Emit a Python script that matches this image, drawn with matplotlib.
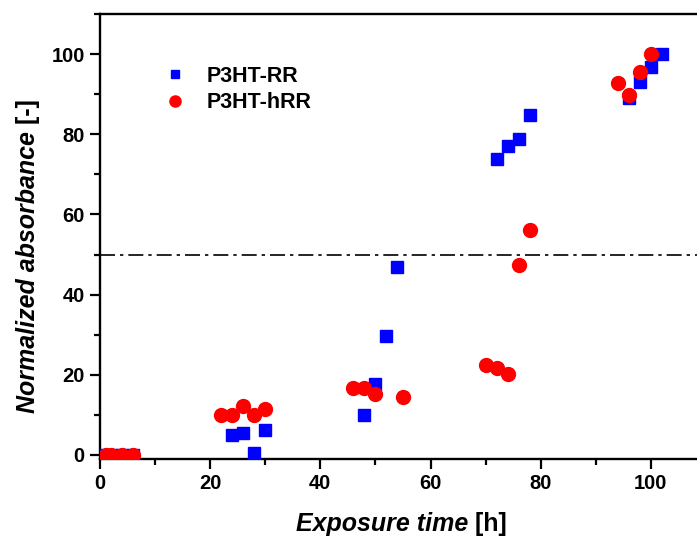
import matplotlib
matplotlib.use("Agg")
import matplotlib.pyplot as plt
from matplotlib.ticker import MultipleLocator

plt.rcParams['font.family'] = ['Liberation Sans', 'DejaVu Sans']

# P3HT-RR (carrés bleus)
rr_time = [1, 2, 4, 6, 24, 26, 28, 30, 48, 50, 52, 54, 72, 74, 76, 78, 96, 98, 100, 102]
rr_abs = [0, 0, 0, 0, 5.0, 5.6, 0.4, 6.3, 10.0, 17.6, 29.8, 47.0, 73.8, 77.0, 78.9, 84.7, 89.1, 93.0, 96.8, 100]

# P3HT-hRR (cercles rouges)
hrr_time = [1, 2, 4, 6, 22, 24, 26, 28, 30, 46, 48, 50, 55, 70, 72, 74, 76, 78, 94, 96, 98, 100]
hrr_abs = [0, 0, 0, 0, 10.1, 10.1, 12.2, 10.1, 11.5, 16.7, 16.7, 15.2, 14.5, 22.5, 21.7, 20.3, 47.3, 56.1, 92.7, 89.8, 95.6, 100]

seuil = 50

fig = plt.figure(figsize=(6.97, 5.38), dpi=100)
ax = fig.add_axes([100 / 697, 1 - 459 / 538, 606 / 697, 445 / 538])

ax.plot(rr_time, rr_abs, 's', color='#0000ff', markersize=8, label='P3HT-RR', zorder=3)
ax.plot(hrr_time, hrr_abs, 'o', color='#ff0000', markersize=10, label='P3HT-hRR', zorder=4)
ax.axhline(seuil, color='black', linewidth=1.2, linestyle=(0, (9, 3, 2, 3)), zorder=2)

ax.set_xlim(0, 110)
ax.set_ylim(-1, 110)
ax.xaxis.set_major_locator(MultipleLocator(20))
ax.xaxis.set_minor_locator(MultipleLocator(10))
ax.yaxis.set_major_locator(MultipleLocator(20))
ax.yaxis.set_minor_locator(MultipleLocator(10))
ax.tick_params(which='major', direction='out', length=7, width=1.6, labelsize=14.5, pad=4)
ax.tick_params(which='minor', direction='out', length=4.5, width=1.6)
for lab in ax.get_xticklabels() + ax.get_yticklabels():
    lab.set_fontweight('bold')

for s in ['left', 'bottom', 'top', 'right']:
    ax.spines[s].set_linewidth(1.7)

# titres des axes : partie italique + unité droite
tx = fig.text(468 / 697, 1 - 536 / 538, 'Exposure time', fontsize=18, fontweight='bold',
              fontstyle='italic', ha='right', va='bottom')
ax.annotate(' [h]', xy=(1, 0), xycoords=tx, fontsize=18, fontweight='bold',
            ha='left', va='bottom', annotation_clip=False)

ty = fig.text(28 / 697, 1 - 272 / 538, 'Normalized absorbance', fontsize=18, fontweight='bold',
              fontstyle='italic', rotation=90, ha='center', va='center')
ax.annotate(' [-]', xy=(0.5, 1), xycoords=ty, fontsize=18, fontweight='bold',
            rotation=90, ha='center', va='bottom', annotation_clip=False)

leg = ax.legend(loc='upper left', bbox_to_anchor=(164 / 697, 1 - 66 / 538),
                bbox_transform=fig.transFigure, frameon=False, handlelength=1,
                handletextpad=1.0, labelspacing=0.25, borderaxespad=0, borderpad=0,
                prop={'weight': 'bold', 'size': 15.5}, markerscale=0.8)

plt.savefig('out.png', dpi=100)
